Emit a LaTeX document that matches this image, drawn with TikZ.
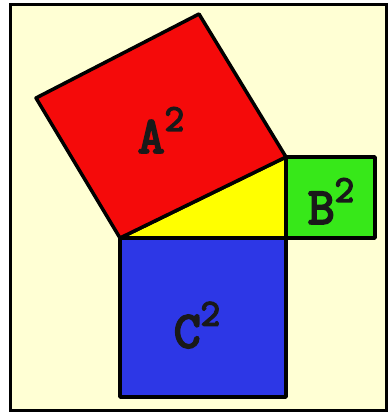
\documentclass[tikz,border=0pt]{standalone}
\usepackage{fontspec}
\newfontfamily\lblfont{Latin Modern Mono}[FakeBold=4]
\usepackage{xcolor}
\definecolor{paper}{RGB}{255,255,212}
\definecolor{sqred}{RGB}{245,10,10}
\definecolor{sqgreen}{RGB}{55,232,25}
\definecolor{sqblue}{RGB}{45,55,230}
\definecolor{triyellow}{RGB}{255,255,0}
\newcommand{\sqd}{\raisebox{0.42em}{\fontsize{38}{38}\selectfont 2}}
\tikzset{
  sq/.style={draw=black,line width=3.5pt,line join=round},
  sqlabel/.style={font=\fontsize{52}{52}\selectfont\lblfont,inner sep=0pt,text=black!90}
}

\begin{document}
\begin{tikzpicture}[x=1pt,y=-1pt]
            \useasboundingbox (0,0) rectangle (390,414);
            % frame
            \draw[line width=3pt,fill=paper] (10,5) rectangle (386,410);
            % corners of the triangle
            \coordinate (P) at (120,238);
            \coordinate (Q) at (286,238);
            \coordinate (R) at (286,157);
            % outer corners of the squares
            \coordinate (A1) at (199,14);
            \coordinate (A2) at (36,98);
            \coordinate (B1) at (375,157);
            \coordinate (B2) at (375,238);
            \coordinate (C1) at (286,397);
            \coordinate (C2) at (120,397);
            \draw[sq,fill=triyellow] (P)--(Q)--(R)--cycle;
            \draw[sq,fill=sqred] (P)--(R)--(A1)--(A2)--cycle;
            \draw[sq,fill=sqgreen] (R)--(B1)--(B2)--(Q)--cycle;
            \draw[sq,fill=sqblue] (P)--(Q)--(C1)--(C2)--cycle;
            \node[sqlabel] (a) at (161,130) {A\sqd};
            \node[sqlabel] (b) at (331,201) {B\sqd};
            \node[sqlabel] (c) at (197,325) {C\sqd};
        \end{tikzpicture}
\end{document}
